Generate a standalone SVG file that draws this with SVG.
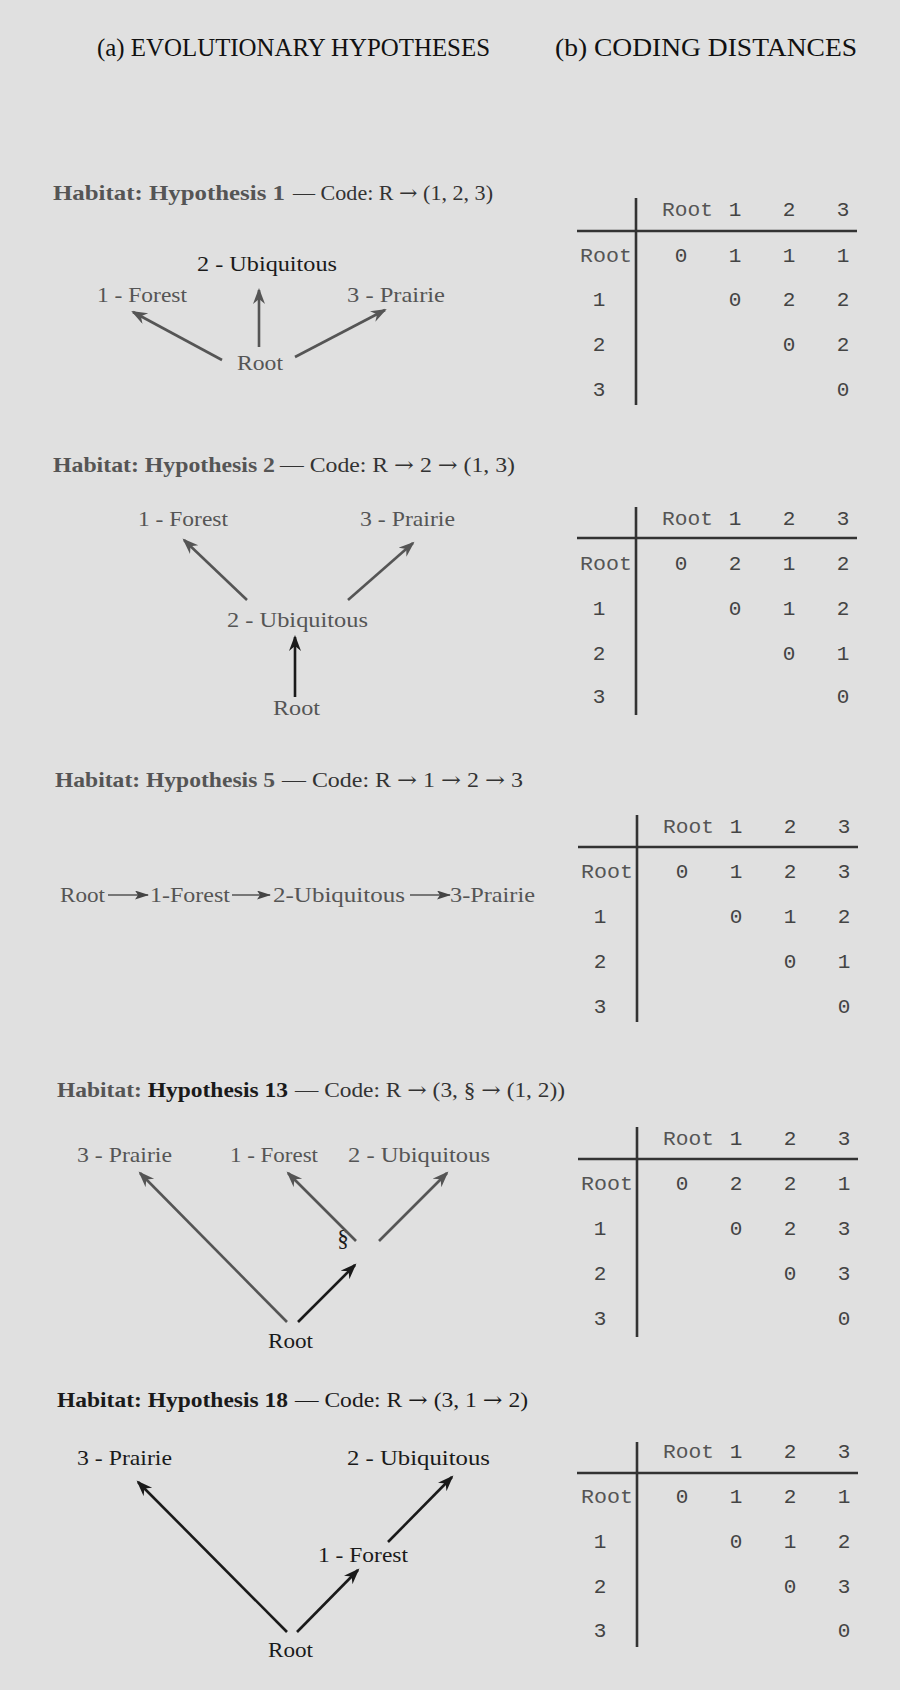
<svg xmlns="http://www.w3.org/2000/svg" width="900" height="1690" viewBox="0 0 900 1690">
<style>
.bg{fill:#e0e0e0}
.hd{font-family:"Liberation Serif",serif;font-size:25px;fill:#111}
.tb{font-family:"Liberation Serif",serif;font-size:21px;font-weight:bold;fill:#555}
.tr{font-family:"Liberation Serif",serif;font-size:21px;fill:#333}
.ar2{font-family:"DejaVu Serif",serif}
.lb{font-family:"Liberation Serif",serif;font-size:22px;fill:#555}
.lk{fill:#1a1a1a}
.mn{font-family:"Liberation Mono",monospace;font-size:21px;fill:#444;text-anchor:middle}
.ms{font-family:"Liberation Mono",monospace;font-size:21px;fill:#555}
.ar{stroke:#555;stroke-width:2.6;fill:none}
.ak{stroke:#1a1a1a;stroke-width:2.6;fill:none}
.ch{stroke:#555;stroke-width:1.5;fill:none}
.tl{stroke:#333;stroke-width:2.6;fill:none}
</style>
<defs>
<marker id="ah" markerUnits="userSpaceOnUse" markerWidth="18" markerHeight="14" refX="14" refY="6" orient="auto">
<path d="M0,0 L16,6 L0,12 L5,6 Z" fill="#555"/>
</marker>
<marker id="ahk" markerUnits="userSpaceOnUse" markerWidth="18" markerHeight="14" refX="14" refY="6" orient="auto">
<path d="M0,0 L16,6 L0,12 L5,6 Z" fill="#1a1a1a"/>
</marker>
<marker id="chm" markerUnits="userSpaceOnUse" markerWidth="16" markerHeight="10" refX="13" refY="4.5" orient="auto">
<path d="M0,0 L14,4.5 L0,9 L3,4.5 Z" fill="#444"/>
</marker>
</defs>
<rect class="bg" x="0" y="0" width="900" height="1690"/>

<g id="headers">
<text class="hd" x="97" y="56" textLength="393" lengthAdjust="spacingAndGlyphs">(a) EVOLUTIONARY HYPOTHESES</text>
<text class="hd" x="555" y="56" textLength="302" lengthAdjust="spacingAndGlyphs">(b) CODING DISTANCES</text>
</g>

<g id="titles">
<text class="tb" x="53" y="200" textLength="232" lengthAdjust="spacingAndGlyphs">Habitat: Hypothesis 1</text>
<text class="tr" x="293" y="200" textLength="200" lengthAdjust="spacingAndGlyphs">— Code: R <tspan class="ar2">→</tspan> (1, 2, 3)</text>
<text class="tb" x="53" y="472" textLength="222" lengthAdjust="spacingAndGlyphs">Habitat: Hypothesis 2</text>
<text class="tr" x="280" y="472" textLength="235" lengthAdjust="spacingAndGlyphs">— Code: R <tspan class="ar2">→</tspan> 2 <tspan class="ar2">→</tspan> (1, 3)</text>
<text class="tb" x="55" y="787" textLength="220" lengthAdjust="spacingAndGlyphs">Habitat: Hypothesis 5</text>
<text class="tr" x="282" y="787" textLength="241" lengthAdjust="spacingAndGlyphs">— Code: R <tspan class="ar2">→</tspan> 1 <tspan class="ar2">→</tspan> 2 <tspan class="ar2">→</tspan> 3</text>
<text class="tb" x="57" y="1097" textLength="231" lengthAdjust="spacingAndGlyphs">Habitat: <tspan class="lk">Hypothesis 13</tspan></text>
<text class="tr" x="295" y="1097" textLength="270" lengthAdjust="spacingAndGlyphs">— Code: R <tspan class="ar2">→</tspan> (3, § <tspan class="ar2">→</tspan> (1, 2))</text>
<text class="tb lk" x="57" y="1407" textLength="231" lengthAdjust="spacingAndGlyphs">Habitat: Hypothesis 18</text>
<text class="tr lk" x="295" y="1407" textLength="233" lengthAdjust="spacingAndGlyphs">— Code: R <tspan class="ar2">→</tspan> (3, 1 <tspan class="ar2">→</tspan> 2)</text>
</g>

<g id="h1-root"><text class="lb" x="237" y="370" textLength="46" lengthAdjust="spacingAndGlyphs">Root</text></g>
<g id="h1-forest"><text class="lb" x="97" y="302" textLength="90" lengthAdjust="spacingAndGlyphs">1 - Forest</text></g>
<g id="h1-ubiq"><text class="lb lk" x="197" y="271" textLength="140" lengthAdjust="spacingAndGlyphs">2 - Ubiquitous</text></g>
<g id="h1-prairie"><text class="lb" x="347" y="302" textLength="98" lengthAdjust="spacingAndGlyphs">3 - Prairie</text></g>

<g id="h2-forest"><text class="lb" x="138" y="526" textLength="90" lengthAdjust="spacingAndGlyphs">1 - Forest</text></g>
<g id="h2-prairie"><text class="lb" x="360" y="526" textLength="95" lengthAdjust="spacingAndGlyphs">3 - Prairie</text></g>
<g id="h2-ubiq"><text class="lb" x="227" y="627" textLength="141" lengthAdjust="spacingAndGlyphs">2 - Ubiquitous</text></g>
<g id="h2-root"><text class="lb" x="273" y="715" textLength="47" lengthAdjust="spacingAndGlyphs">Root</text></g>

<g id="h5-root"><text class="lb" x="60" y="902" textLength="45" lengthAdjust="spacingAndGlyphs">Root</text></g>
<g id="h5-forest"><text class="lb" x="150" y="902" textLength="80" lengthAdjust="spacingAndGlyphs">1-Forest</text></g>
<g id="h5-ubiq"><text class="lb" x="273" y="902" textLength="132" lengthAdjust="spacingAndGlyphs">2-Ubiquitous</text></g>
<g id="h5-prairie"><text class="lb" x="450" y="902" textLength="85" lengthAdjust="spacingAndGlyphs">3-Prairie</text></g>

<g id="h13-prairie"><text class="lb" x="77" y="1162" textLength="95" lengthAdjust="spacingAndGlyphs">3 - Prairie</text></g>
<g id="h13-forest"><text class="lb" x="230" y="1162" textLength="88" lengthAdjust="spacingAndGlyphs">1 - Forest</text></g>
<g id="h13-ubiq"><text class="lb" x="348" y="1162" textLength="142" lengthAdjust="spacingAndGlyphs">2 - Ubiquitous</text></g>
<g id="h13-s"><text class="lb lk" x="343" y="1246" text-anchor="middle" style="font-size:23px">§</text></g>
<g id="h13-root"><text class="lb lk" x="268" y="1348" textLength="45" lengthAdjust="spacingAndGlyphs">Root</text></g>

<g id="h18-prairie"><text class="lb lk" x="77" y="1465" textLength="95" lengthAdjust="spacingAndGlyphs">3 - Prairie</text></g>
<g id="h18-ubiq"><text class="lb lk" x="347" y="1465" textLength="143" lengthAdjust="spacingAndGlyphs">2 - Ubiquitous</text></g>
<g id="h18-forest"><text class="lb lk" x="318" y="1562" textLength="90" lengthAdjust="spacingAndGlyphs">1 - Forest</text></g>
<g id="h18-root"><text class="lb lk" x="268" y="1657" textLength="45" lengthAdjust="spacingAndGlyphs">Root</text></g>

<g id="connectors">
<line class="ar" x1="222" y1="360" x2="133" y2="312" marker-end="url(#ah)"/>
<line class="ar" x1="259" y1="347" x2="259" y2="290" marker-end="url(#ah)"/>
<line class="ar" x1="295" y1="357" x2="385" y2="310" marker-end="url(#ah)"/>

<line class="ar" x1="247" y1="600" x2="184" y2="540" marker-end="url(#ah)"/>
<line class="ar" x1="348" y1="600" x2="413" y2="543" marker-end="url(#ah)"/>
<line class="ak" x1="295" y1="697" x2="295" y2="637" marker-end="url(#ahk)"/>

<line class="ch" x1="108" y1="895" x2="148" y2="895" marker-end="url(#chm)"/>
<line class="ch" x1="232" y1="895" x2="270" y2="895" marker-end="url(#chm)"/>
<line class="ch" x1="410" y1="895" x2="450" y2="895" marker-end="url(#chm)"/>

<line class="ar" x1="287" y1="1322" x2="140" y2="1173" marker-end="url(#ah)"/>
<line class="ak" x1="298" y1="1322" x2="355" y2="1265" marker-end="url(#ahk)"/>
<line class="ar" x1="356" y1="1241" x2="288" y2="1173" marker-end="url(#ah)"/>
<line class="ar" x1="379" y1="1241" x2="447" y2="1173" marker-end="url(#ah)"/>

<line class="ak" x1="287" y1="1632" x2="138" y2="1482" marker-end="url(#ahk)"/>
<line class="ak" x1="297" y1="1632" x2="358" y2="1570" marker-end="url(#ahk)"/>
<line class="ak" x1="388" y1="1542" x2="452" y2="1477" marker-end="url(#ahk)"/>
</g>

<g id="table1">
<line class="tl" x1="636" y1="198" x2="636" y2="405"/>
<line class="tl" x1="577" y1="231" x2="857" y2="231"/>
<text class="ms" x="662" y="216" textLength="51" lengthAdjust="spacingAndGlyphs">Root</text>
<text class="mn" x="735" y="216">1</text><text class="mn" x="789" y="216">2</text><text class="mn" x="843" y="216">3</text>
<text class="ms" x="580" y="262" textLength="52" lengthAdjust="spacingAndGlyphs">Root</text>
<text class="mn" x="681" y="262">0</text><text class="mn" x="735" y="262">1</text><text class="mn" x="789" y="262">1</text><text class="mn" x="843" y="262">1</text>
<text class="mn" x="599" y="306">1</text><text class="mn" x="735" y="306">0</text><text class="mn" x="789" y="306">2</text><text class="mn" x="843" y="306">2</text>
<text class="mn" x="599" y="351">2</text><text class="mn" x="789" y="351">0</text><text class="mn" x="843" y="351">2</text>
<text class="mn" x="599" y="396">3</text><text class="mn" x="843" y="396">0</text>
</g>

<g id="table2">
<line class="tl" x1="636" y1="507" x2="636" y2="715"/>
<line class="tl" x1="577" y1="538" x2="857" y2="538"/>
<text class="ms" x="662" y="525" textLength="51" lengthAdjust="spacingAndGlyphs">Root</text>
<text class="mn" x="735" y="525">1</text><text class="mn" x="789" y="525">2</text><text class="mn" x="843" y="525">3</text>
<text class="ms" x="580" y="570" textLength="52" lengthAdjust="spacingAndGlyphs">Root</text>
<text class="mn" x="681" y="570">0</text><text class="mn" x="735" y="570">2</text><text class="mn" x="789" y="570">1</text><text class="mn" x="843" y="570">2</text>
<text class="mn" x="599" y="615">1</text><text class="mn" x="735" y="615">0</text><text class="mn" x="789" y="615">1</text><text class="mn" x="843" y="615">2</text>
<text class="mn" x="599" y="660">2</text><text class="mn" x="789" y="660">0</text><text class="mn" x="843" y="660">1</text>
<text class="mn" x="599" y="703">3</text><text class="mn" x="843" y="703">0</text>
</g>

<g id="table3">
<line class="tl" x1="637" y1="815" x2="637" y2="1022"/>
<line class="tl" x1="578" y1="847" x2="858" y2="847"/>
<text class="ms" x="663" y="833" textLength="51" lengthAdjust="spacingAndGlyphs">Root</text>
<text class="mn" x="736" y="833">1</text><text class="mn" x="790" y="833">2</text><text class="mn" x="844" y="833">3</text>
<text class="ms" x="581" y="878" textLength="52" lengthAdjust="spacingAndGlyphs">Root</text>
<text class="mn" x="682" y="878">0</text><text class="mn" x="736" y="878">1</text><text class="mn" x="790" y="878">2</text><text class="mn" x="844" y="878">3</text>
<text class="mn" x="600" y="923">1</text><text class="mn" x="736" y="923">0</text><text class="mn" x="790" y="923">1</text><text class="mn" x="844" y="923">2</text>
<text class="mn" x="600" y="968">2</text><text class="mn" x="790" y="968">0</text><text class="mn" x="844" y="968">1</text>
<text class="mn" x="600" y="1013">3</text><text class="mn" x="844" y="1013">0</text>
</g>

<g id="table4">
<line class="tl" x1="637" y1="1127" x2="637" y2="1337"/>
<line class="tl" x1="578" y1="1159" x2="858" y2="1159"/>
<text class="ms" x="663" y="1145" textLength="51" lengthAdjust="spacingAndGlyphs">Root</text>
<text class="mn" x="736" y="1145">1</text><text class="mn" x="790" y="1145">2</text><text class="mn" x="844" y="1145">3</text>
<text class="ms" x="581" y="1190" textLength="52" lengthAdjust="spacingAndGlyphs">Root</text>
<text class="mn" x="682" y="1190">0</text><text class="mn" x="736" y="1190">2</text><text class="mn" x="790" y="1190">2</text><text class="mn" x="844" y="1190">1</text>
<text class="mn" x="600" y="1235">1</text><text class="mn" x="736" y="1235">0</text><text class="mn" x="790" y="1235">2</text><text class="mn" x="844" y="1235">3</text>
<text class="mn" x="600" y="1280">2</text><text class="mn" x="790" y="1280">0</text><text class="mn" x="844" y="1280">3</text>
<text class="mn" x="600" y="1325">3</text><text class="mn" x="844" y="1325">0</text>
</g>

<g id="table5">
<line class="tl" x1="637" y1="1442" x2="637" y2="1647"/>
<line class="tl" x1="577" y1="1473" x2="858" y2="1473"/>
<text class="ms" x="663" y="1458" textLength="51" lengthAdjust="spacingAndGlyphs">Root</text>
<text class="mn" x="736" y="1458">1</text><text class="mn" x="790" y="1458">2</text><text class="mn" x="844" y="1458">3</text>
<text class="ms" x="581" y="1503" textLength="52" lengthAdjust="spacingAndGlyphs">Root</text>
<text class="mn" x="682" y="1503">0</text><text class="mn" x="736" y="1503">1</text><text class="mn" x="790" y="1503">2</text><text class="mn" x="844" y="1503">1</text>
<text class="mn" x="600" y="1548">1</text><text class="mn" x="736" y="1548">0</text><text class="mn" x="790" y="1548">1</text><text class="mn" x="844" y="1548">2</text>
<text class="mn" x="600" y="1593">2</text><text class="mn" x="790" y="1593">0</text><text class="mn" x="844" y="1593">3</text>
<text class="mn" x="600" y="1637">3</text><text class="mn" x="844" y="1637">0</text>
</g>
</svg>
